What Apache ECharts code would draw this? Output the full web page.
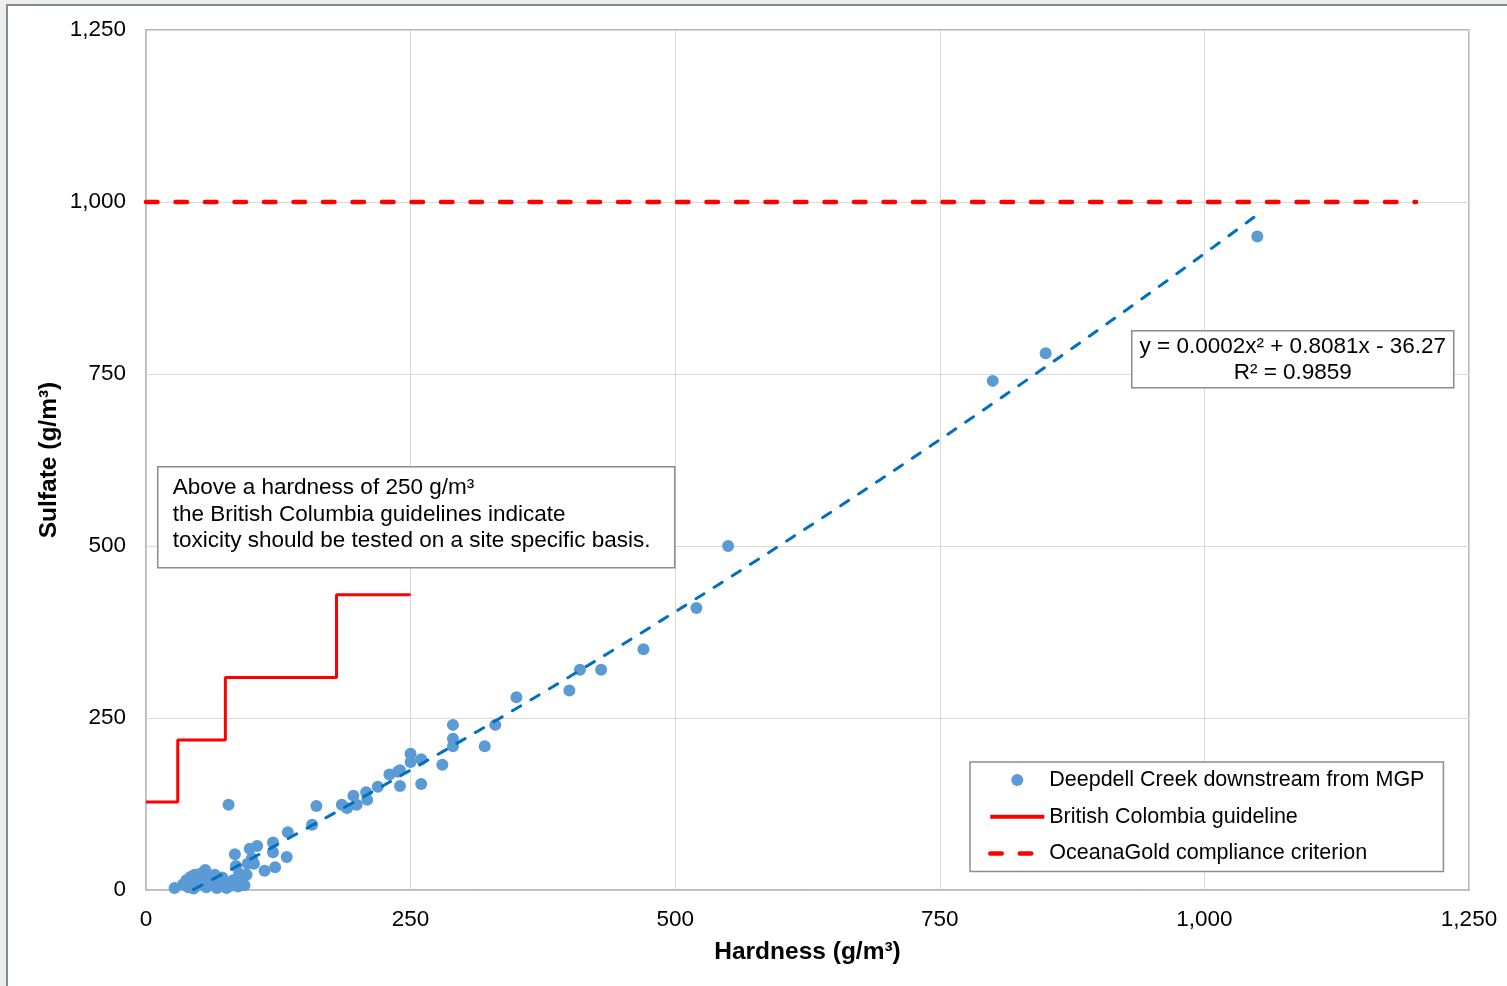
<!DOCTYPE html>
<html>
<head>
<meta charset="utf-8">
<script src="https://cdn.jsdelivr.net/npm/echarts@6/dist/echarts.min.js"></script>
<style>
  html, body { margin: 0; padding: 0; background: #eceff2; width: 1507px; height: 986px; overflow: hidden; }
  #frame { position: absolute; left: 6px; top: 4px; right: 0; bottom: 0; background: #fff; border-left: 2px solid #8a8a8a; border-top: 2px solid #8a8a8a; }
  #chart { position: absolute; left: 0; top: 0; width: 1507px; height: 986px; }
</style>
</head>
<body>
<div id="frame"></div>
<div id="chart"></div>
<script>
// Deepdell Creek downstream from MGP: hardness (g/m3) and sulfate (g/m3)
const hardness = [27,35,38,40,42,44,45,46,48,50,52,54,56,57,60,62,63,65,67,68,70,72,74,76,78,80,82,84,85,87,88,90,92,93,95,96,98,100,102,105,112,120,120,122,133,134,157,161,185,190,196,199,208,209,219,230,238,240,240,250,250,260,260,280,290,290,290,320,330,350,400,410,430,470,520,550,800,850,1050];
const sulfate  = [3,8,14,4,19,10,2,22,6,15,24,9,29,4,18,8,12,22,3,15,7,18,11,3,124,6,14,52,35,5,24,12,19,7,22,38,60,46,38,64,28,55,69,33,48,84,95,122,124,119,137,124,142,131,150,168,172,174,151,198,186,190,154,182,240,220,209,209,240,280,290,320,320,350,410,500,740,780,950];

// British Columbia guideline (step): hardness break points and sulfate limits
const bcHardness = [0, 30, 75, 180, 250];
const bcSulfate  = [128, 218, 309, 429, 429];

// OceanaGold compliance criterion
const ogHardness = [0, 1200];
const ogSulfate  = [1000, 1000];

// Axis ticks
const xTicks = [0, 250, 500, 750, 1000, 1250];
const yTicks = [0, 250, 500, 750, 1000, 1250];

const scatterData = hardness.map((h, i) => [h, sulfate[i]]);
const bcData = bcHardness.map((h, i) => [h, bcSulfate[i]]);
const ogData = ogHardness.map((h, i) => [h, ogSulfate[i]]);

// Polynomial (order 2) least-squares trendline of the scatter data
function quadFit(xs, ys) {
  let S = [0,0,0,0,0], T = [0,0,0];
  for (let i = 0; i < xs.length; i++) {
    const x = xs[i], y = ys[i];
    let p = 1;
    for (let k = 0; k < 5; k++) { S[k] += p; p *= x; }
    T[0] += y; T[1] += y * x; T[2] += y * x * x;
  }
  const A = [[S[0],S[1],S[2],T[0]],[S[1],S[2],S[3],T[1]],[S[2],S[3],S[4],T[2]]];
  for (let c = 0; c < 3; c++) {
    for (let r = c + 1; r < 3; r++) {
      const f = A[r][c] / A[c][c];
      for (let k = c; k < 4; k++) A[r][k] -= f * A[c][k];
    }
  }
  const b = [0,0,0];
  for (let r = 2; r >= 0; r--) {
    let s = A[r][3];
    for (let k = r + 1; k < 3; k++) s -= A[r][k] * b[k];
    b[r] = s / A[r][r];
  }
  return b; // c0, c1, c2
}
const coef = quadFit(hardness, sulfate);
const xMin = Math.min(...hardness), xMax = Math.max(...hardness);
const trendData = [];
for (let k = 0; k <= 100; k++) {
  const x = xMin + (xMax - xMin) * k / 100;
  trendData.push([x, coef[0] + coef[1] * x + coef[2] * x * x]);
}

const FONT = 'Liberation Sans, Arial, sans-serif';
const fmt = v => v.toLocaleString('en-US');
const OG_DASH = [11.5, 18];

const chart = echarts.init(document.getElementById('chart'), null, { renderer: 'canvas' });
chart.setOption({
  backgroundColor: 'transparent',
  animation: false,
  textStyle: { fontFamily: FONT },
  grid: {
    left: 146, right: 38, top: 30, bottom: 96,
    show: true, borderColor: '#a0a0a0', borderWidth: 1.5, backgroundColor: '#fff'
  },
  xAxis: {
    type: 'value', min: xTicks[0], max: xTicks[xTicks.length - 1], interval: 250,
    name: 'Hardness (g/m³)', nameLocation: 'middle', nameGap: 50, nameMoveOverlap: false,
    nameTextStyle: { fontFamily: FONT, fontSize: 24.5, fontWeight: 'bold', color: '#000' },
    axisLine: { show: true, lineStyle: { color: '#bfbfbf', width: 1.5 } },
    axisTick: { show: false },
    axisLabel: { fontFamily: FONT, fontSize: 22.5, color: '#000', margin: 18, formatter: fmt },
    splitLine: { show: true, lineStyle: { color: '#d9d9d9', width: 1 } }
  },
  yAxis: {
    type: 'value', min: yTicks[0], max: yTicks[yTicks.length - 1], interval: 250,
    name: 'Sulfate (g/m³)', nameLocation: 'middle', nameGap: 84, nameRotate: 90, nameMoveOverlap: false,
    nameTextStyle: { fontFamily: FONT, fontSize: 24.5, fontWeight: 'bold', color: '#000' },
    axisLine: { show: true, lineStyle: { color: '#bfbfbf', width: 1.5 } },
    axisTick: { show: false },
    axisLabel: { fontFamily: FONT, fontSize: 22.5, color: '#000', margin: 20, formatter: fmt },
    splitLine: { show: true, lineStyle: { color: '#d9d9d9', width: 1 } }
  },
  legend: {
    orient: 'vertical', left: 970, top: 762,
    backgroundColor: '#fff', borderColor: '#8c8c8c', borderWidth: 1.5,
    padding: [6, 19, 6, 18], itemGap: 12.7, itemWidth: 54, itemHeight: 12,
    textStyle: { fontFamily: FONT, fontSize: 21.5, color: '#000', lineHeight: 24 },
    data: [
      { name: 'Deepdell Creek downstream from MGP', icon: 'circle' },
      { name: 'British Colombia guideline', itemStyle: { opacity: 0 },
        lineStyle: { color: '#ff0000', width: 4, type: 'solid' } },
      { name: 'OceanaGold compliance criterion', itemStyle: { opacity: 0 },
        lineStyle: { color: '#ff0000', width: 4.5, type: OG_DASH, cap: 'round' } }
    ]
  },
  series: [
    {
      name: 'Deepdell Creek downstream from MGP', type: 'scatter', data: scatterData,
      symbol: 'circle', symbolSize: 12, itemStyle: { color: '#5b9bd5', opacity: 1 }, z: 3
    },
    {
      name: 'Trendline', type: 'line', data: trendData, showSymbol: false, symbol: 'none',
      lineStyle: { color: '#0070c0', width: 3, type: [9.5, 12], cap: 'round' }, z: 4, silent: true, clip: true
    },
    {
      name: 'British Colombia guideline', type: 'line', data: bcData, step: 'end',
      symbol: 'none', lineStyle: { color: '#ff0000', width: 3 }, itemStyle: { color: '#ff0000' }, z: 5
    },
    {
      name: 'OceanaGold compliance criterion', type: 'line', data: ogData,
      symbol: 'none', lineStyle: { color: '#ff0000', width: 4.5, type: OG_DASH, cap: 'round' }, itemStyle: { color: '#ff0000' }, z: 5
    }
  ],
  graphic: [
    {
      type: 'group', left: 157, top: 466, z: 100,
      children: [
        { type: 'rect', z: 100, shape: { x: 0, y: 0, width: 517, height: 101 }, style: { fill: '#fff', stroke: '#8c8c8c', lineWidth: 1.5 } },
        { type: 'text', z: 101, x: 15, y: 8, style: {
            text: 'Above a hardness of 250 g/m³\nthe British Columbia guidelines indicate\ntoxicity should be tested on a site specific basis.',
            font: '22.5px ' + FONT, fill: '#000', lineHeight: 26.5, align: 'left', verticalAlign: 'top' } }
      ]
    },
    {
      type: 'group', left: 1131, top: 330, z: 100,
      children: [
        { type: 'rect', z: 100, shape: { x: 0, y: 0, width: 322, height: 57 }, style: { fill: '#fff', stroke: '#8c8c8c', lineWidth: 1.5 } },
        { type: 'text', z: 101, x: 161, y: 3, style: {
            text: 'y = 0.0002x² + 0.8081x - 36.27\nR² = 0.9859',
            font: '22.5px ' + FONT, fill: '#000', lineHeight: 26, align: 'center', verticalAlign: 'top' } }
      ]
    }
  ]
});
</script>
</body>
</html>
